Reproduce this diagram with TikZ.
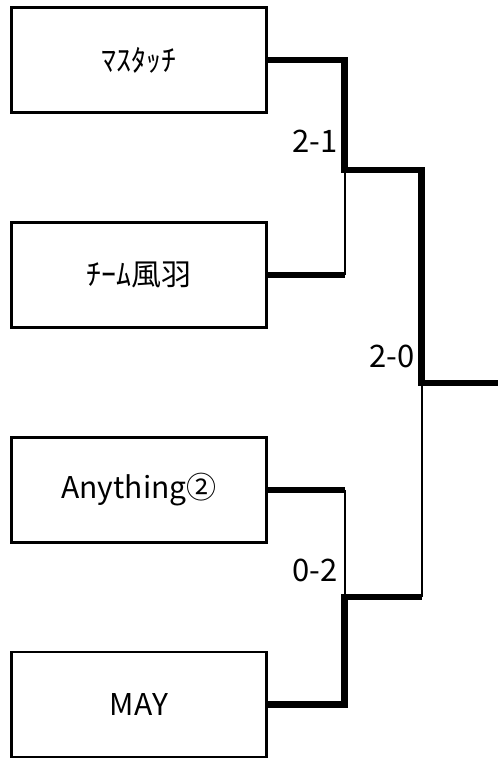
\documentclass[tikz,border=0pt]{standalone}
\usepackage{fontspec}
\setmainfont{Noto Sans CJK JP}
\begin{document}
\begin{tikzpicture}[x=1pt,y=-1pt,
  team/.style={draw,line width=2.7pt,minimum width=255pt,minimum height=105pt,inner sep=0pt,
    font=\fontsize{30}{34}\selectfont},
  win/.style={line width=6.5pt,line join=miter},
  lose/.style={line width=2pt},
  score/.style={anchor=east,inner sep=0pt,font=\fontsize{31}{34}\selectfont}]
\useasboundingbox (0,0) rectangle (498,760);
\node[team] (t1) at (139,60) {ﾏｽﾀｯﾁ};
\node[team] (t2) at (139,275) {ﾁｰﾑ風羽};
\node[team] (t3) at (139,490) {Anything②};
\node[team] (t4) at (139,704.5) {MAY};
\coordinate (c1) at (344.5,60);
\coordinate (c2) at (344.5,275);
\coordinate (m1) at (344.5,170);
\coordinate (c3) at (344.5,490);
\coordinate (c4) at (344.5,704.5);
\coordinate (m2) at (344.5,597);
\coordinate (f1) at (421.5,170);
\coordinate (f2) at (421.5,597);
\coordinate (f) at (421.5,383);
\coordinate (e) at (498,383);
% semifinal 1
\draw[win] (t1.east) -- (c1) -- (m1) -- (f1) -- (f) -- (e);
\draw[lose] (m1) -- (c2);
\draw[win] (t2.east) -- (c2);
% semifinal 2
\draw[win] (t3.east) -- (c3);
\draw[lose] (c3) -- (m2);
\draw[win] (t4.east) -- (c4) -- (m2) -- (f2);
\draw[lose] (f2) -- (f);
% scores
\node[score] (s1) at (338,141) {2-1};
\node[score] (s2) at (415,356) {2-0};
\node[score] (s3) at (338,570) {0-2};
\end{tikzpicture}
\end{document}
